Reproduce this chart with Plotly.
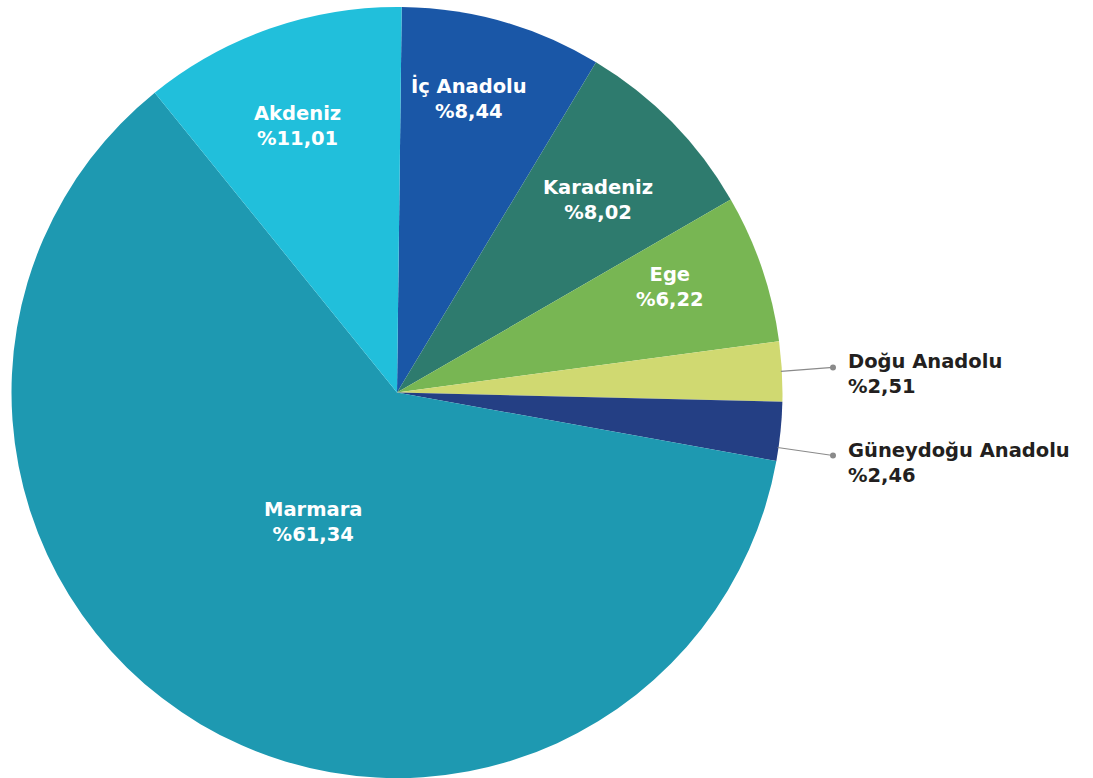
import math
import plotly.graph_objects as go

regions = ["İç Anadolu", "Karadeniz", "Ege", "Doğu Anadolu", "Güneydoğu Anadolu", "Marmara", "Akdeniz"]
shares = [8.44, 8.02, 6.22, 2.51, 2.46, 61.34, 11.01]
colors = ["#1a57a7", "#2e7b6e", "#78b653", "#d0d971", "#243f84", "#1e99b1", "#21bfdb"]
outside = [False, False, False, True, True, False, False]

# label placement (angle offset in degrees from slice middle, radius fraction)
label_pos = [(-2.2, 0.786), (0.7, 0.722), (-2.2, 0.759), (0, 0), (0, 0), (2.35, 0.40), (-1.3, 0.737)]
# outside labels: fraction along slice where leader starts, vertical offset of dot
leader_frac = {3: 0.5, 4: 0.77}
leader_dy = {3: -4, 4: 8}

W, H = 1093, 778
ROT = 0.7
CX, CY, R = 397.0, 392.5, 385.5
FONT = "DejaVu Sans"
FSIZE = 19.5

fig = go.Figure(go.Pie(
    labels=regions, values=shares, sort=False, direction="clockwise", rotation=ROT,
    marker=dict(colors=colors, line=dict(width=0)),
    textinfo="none", hoverinfo="label+percent", showlegend=False,
    domain=dict(x=[(CX - R) / W, (CX + R) / W], y=[1 - (CY + R) / H, 1 - (CY - R) / H]),
))

def fmt(v):
    return "%" + f"{v:.2f}".replace(".", ",")

def px(x, y):
    return x / W, 1 - y / H

annotations, shapes = [], []
total = sum(shares)
cum = 0.0
for i, (name, v) in enumerate(zip(regions, shares)):
    a0 = ROT + cum / total * 360
    a1 = ROT + (cum + v) / total * 360
    cum += v
    mid = (a0 + a1) / 2
    if not outside[i]:
        da, rf = label_pos[i]
        ang = math.radians(mid + da)
        x = CX + rf * R * math.sin(ang)
        y = CY - rf * R * math.cos(ang)
        xp, yp = px(x, y)
        annotations.append(dict(x=xp, y=yp, xref="paper", yref="paper", showarrow=False,
                                xanchor="center", yanchor="middle",
                                text=f"{name}<br>{fmt(v)}", align="center",
                                font=dict(family=FONT, size=FSIZE, color="white", weight="bold")))
    else:
        ang = math.radians(a0 + leader_frac[i] * (a1 - a0))
        sx = CX + R * math.sin(ang)
        sy = CY - R * math.cos(ang)
        ex, ey = 833, sy + leader_dy[i]
        x0, y0 = px(sx - 1, sy)
        x1, y1 = px(ex, ey)
        shapes.append(dict(type="line", xref="paper", yref="paper", x0=x0, y0=y0, x1=x1, y1=y1,
                           line=dict(color="#8a8a8a", width=1.2)))
        shapes.append(dict(type="circle", xref="paper", yref="paper",
                           x0=(ex - 3) / W, x1=(ex + 3) / W, y0=1 - (ey + 3) / H, y1=1 - (ey - 3) / H,
                           fillcolor="#8a8a8a", line=dict(width=0)))
        tx, ty = px(846, ey + 7)
        annotations.append(dict(x=tx, y=ty, xref="paper", yref="paper", showarrow=False,
                                xanchor="left", yanchor="middle", align="left",
                                text=f"{name}<br>{fmt(v)}",
                                font=dict(family=FONT, size=FSIZE, color="#231f20", weight="bold")))

fig.update_layout(width=W, height=H, margin=dict(l=0, r=0, t=0, b=0),
                  paper_bgcolor="white", plot_bgcolor="white",
                  annotations=annotations, shapes=shapes)
fig.write_html("out.html", config={"displayModeBar": False},
               post_script="document.body.style.margin='0';document.body.style.overflow='hidden';")
